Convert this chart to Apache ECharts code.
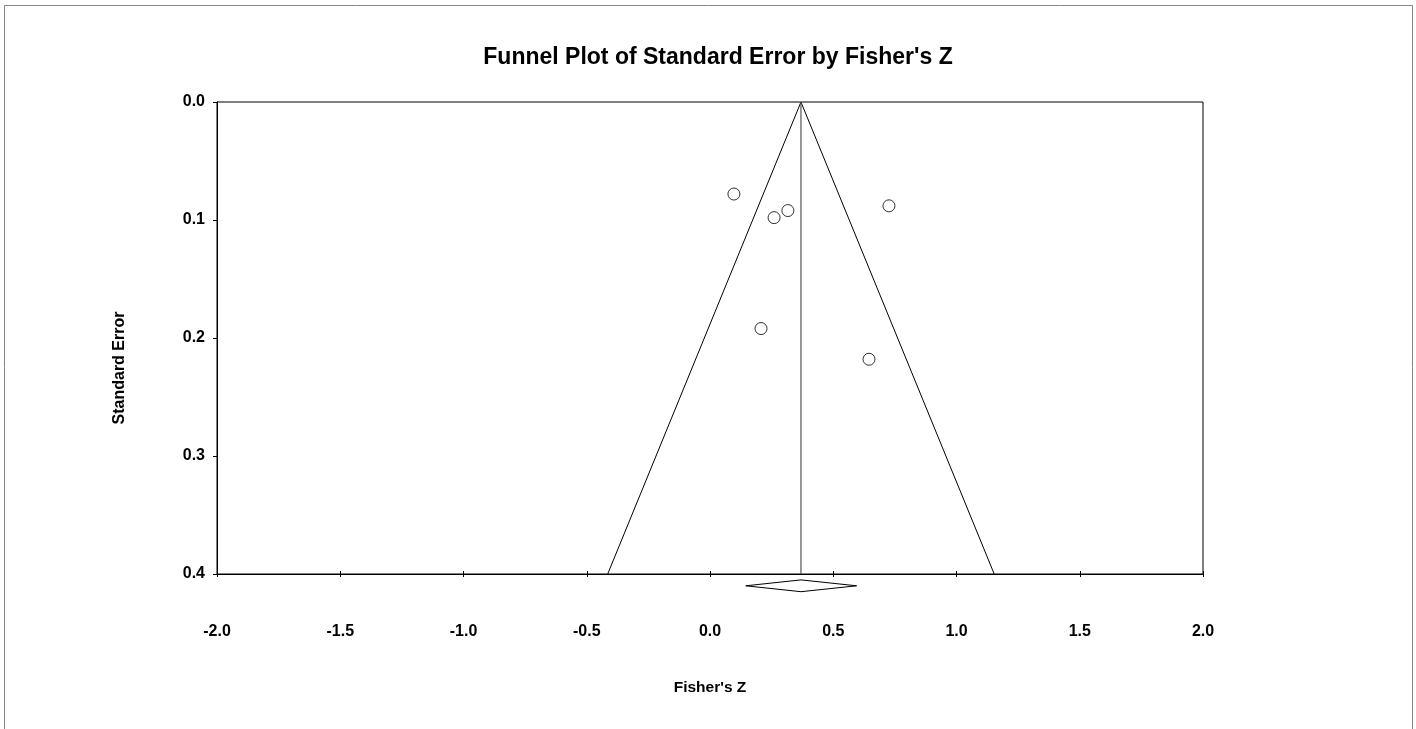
<!DOCTYPE html>
<html>
<head>
<meta charset="utf-8">
<script src="https://cdn.jsdelivr.net/npm/echarts@6/dist/echarts.min.js"></script>
<style>html,body{margin:0;padding:0;background:#fff;}#c{width:1416px;height:729px;}</style>
</head>
<body>
<div id="c"></div>
<script>
// Study points
const fisherZ = [0.097, 0.260, 0.316, 0.726, 0.207, 0.645];
const stdError = [0.078, 0.098, 0.092, 0.088, 0.192, 0.218];
// Summary effect and confidence interval
const meanZ = 0.369;
const ciLow = 0.145;
const ciHigh = 0.595;
// Funnel edges (z, se)
const funnelLeft = [[0.369, 0.0], [-0.415, 0.4]];
const funnelRight = [[0.369, 0.0], [1.153, 0.4]];
// Diamond vertical extent (below the axis)
const diamondTop = 0.405, diamondMid = 0.410, diamondBottom = 0.415;
// Axis ranges
const xMin = -2.0, xMax = 2.0, xStep = 0.5;
const yMin = 0.0, yMax = 0.4, yStep = 0.1;

const chart = echarts.init(document.getElementById('c'), null, {renderer: 'canvas'});
const font = 'Arial, "Liberation Sans", Helvetica, sans-serif';

const points = fisherZ.map((z, i) => [z, stdError[i]]);
const diamond = [[ciLow, diamondMid], [meanZ, diamondTop], [ciHigh, diamondMid], [meanZ, diamondBottom], [ciLow, diamondMid]];

const gridPos = {left: 217, top: 102, right: 213, bottom: 155};

chart.setOption({
  animation: false,
  backgroundColor: '#fff',
  title: {
    text: "Funnel Plot of Standard Error by Fisher's Z",
    left: 713, top: 41, textAlign: 'center',
    textStyle: {fontFamily: font, fontWeight: 'bold', fontSize: 23, color: '#000'}
  },
  grid: [
    Object.assign({show: true, borderColor: '#000', borderWidth: 1, backgroundColor: 'transparent'}, gridPos),
    Object.assign({show: false}, gridPos)
  ],
  xAxis: [{
    gridIndex: 0, type: 'value', min: xMin, max: xMax, interval: xStep, position: 'bottom',
    name: "Fisher's Z", nameLocation: 'middle', nameGap: 106,
    nameTextStyle: {fontFamily: font, fontWeight: 'bold', fontSize: 15.5, color: '#000'},
    axisLine: {show: true, onZero: false, lineStyle: {color: '#000', width: 1}},
    axisTick: {show: true, inside: true, length: 3, lineStyle: {color: '#000'}},
    axisLabel: {margin: 50, fontFamily: font, fontWeight: 'bold', fontSize: 16, color: '#000', formatter: v => v.toFixed(1)},
    splitLine: {show: false}
  }, {
    gridIndex: 1, type: 'value', min: xMin, max: xMax, interval: xStep, position: 'bottom',
    axisLine: {show: false, onZero: false},
    axisTick: {show: true, inside: false, length: 3, lineStyle: {color: '#000', width: 1}},
    axisLabel: {show: false},
    splitLine: {show: false}
  }],
  yAxis: [{
    gridIndex: 0, type: 'value', min: yMin, max: yMax, interval: yStep, inverse: true,
    axisLine: {show: true, onZero: false, lineStyle: {color: '#000', width: 1}},
    axisTick: {show: true, inside: false, length: 4, lineStyle: {color: '#000'}},
    axisLabel: {margin: 12, fontFamily: font, fontWeight: 'bold', fontSize: 16, color: '#000', formatter: v => v.toFixed(1)},
    splitLine: {show: false}
  }, {
    gridIndex: 1, type: 'value', min: yMin, max: yMax, interval: yStep, inverse: true, show: false
  }],
  graphic: [
    {type: 'rect', shape: {x: 4.5, y: 5.5, width: 1408, height: 760}, style: {fill: 'none', stroke: '#888', lineWidth: 1}, silent: true, z: -10},
    {type: 'text', x: 120, y: 368, rotation: Math.PI / 2,
     style: {text: 'Standard Error', fontFamily: font, fontWeight: 'bold', fontSize: 16, fill: '#000', align: 'center', verticalAlign: 'middle'}}
  ],
  series: [
    {type: 'line', data: funnelLeft, symbol: 'none', lineStyle: {color: '#000', width: 1}, z: 2},
    {type: 'line', data: funnelRight, symbol: 'none', lineStyle: {color: '#000', width: 1}, z: 2},
    {type: 'line', data: [[meanZ, yMin], [meanZ, yMax]], symbol: 'none', lineStyle: {color: '#555', width: 1.2}, z: 2},
    {type: 'line', data: diamond, symbol: 'none', clip: false, lineStyle: {color: '#000', width: 1}, z: 2},
    {type: 'scatter', data: points, symbol: 'circle', symbolSize: 12,
     itemStyle: {color: '#fff', borderColor: '#000', borderWidth: 1}, z: 3}
  ]
});
</script>
</body>
</html>
